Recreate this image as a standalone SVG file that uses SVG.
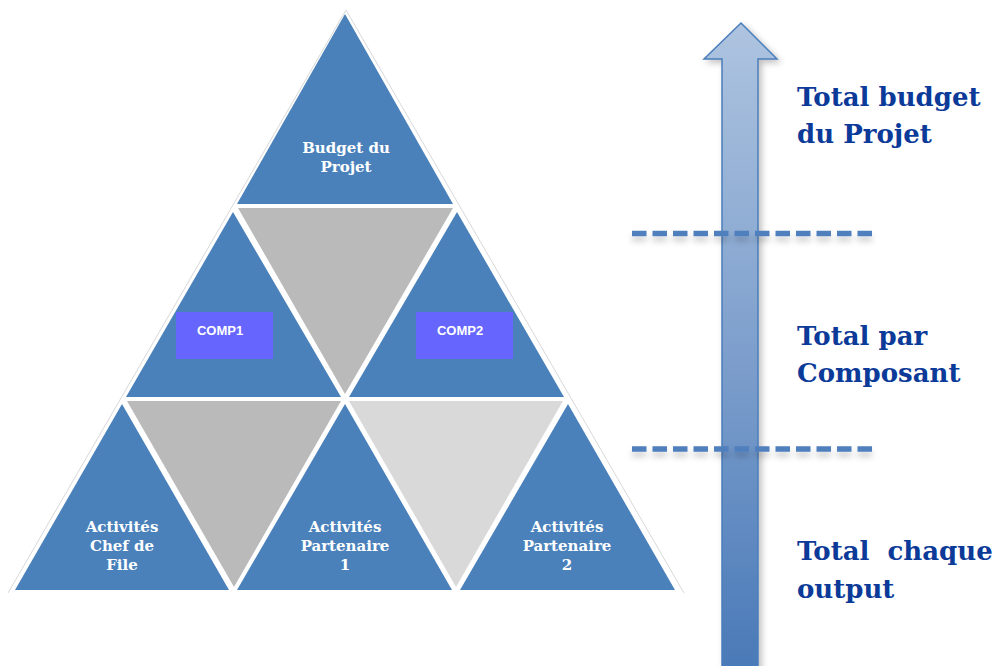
<svg xmlns="http://www.w3.org/2000/svg" width="995" height="666" viewBox="0 0 995 666">
<defs>
<linearGradient id="arrowGrad" x1="0" y1="22" x2="0" y2="666" gradientUnits="userSpaceOnUse">
<stop offset="0" stop-color="#AEC4E0"/>
<stop offset="0.5" stop-color="#7FA0CD"/>
<stop offset="1" stop-color="#4A7AB8"/>
</linearGradient>
<filter id="shadow" x="-30%" y="-10%" width="160%" height="130%">
<feDropShadow dx="3" dy="3" stdDeviation="3" flood-color="#000" flood-opacity="0.25"/>
</filter>
<filter id="lineShadow" filterUnits="userSpaceOnUse" x="600" y="200" width="300" height="280">
<feDropShadow dx="0" dy="5" stdDeviation="3" flood-color="#000" flood-opacity="0.2"/>
</filter>
</defs>
<style>
.blue{fill:#4A81BB}
.grey{fill:#BABABA}
.lgrey{fill:#D9D9D9}
.comp{fill:#6666FF}
.tlabel{font-family:"DejaVu Serif","Liberation Serif",serif;font-weight:bold;font-size:15px;fill:#FFFFFF;text-anchor:middle}
.clabel{font-family:"Liberation Sans",Arial,sans-serif;font-weight:bold;font-size:13px;fill:#FFFFFF;text-anchor:middle}
.rlabel{font-family:"DejaVu Serif","Liberation Serif",serif;font-weight:bold;font-size:26px;fill:#0B3A99;white-space:pre}
.dash{stroke:#4F7FBD;stroke-width:5.3;stroke-dasharray:14.5 6;fill:none}
</style>
<rect width="995" height="666" fill="#FFFFFF"/>
<polyline points="8,593 346,10 684,593" fill="none" stroke="#D8D8D8" stroke-width="1"/>
<g id="budget-projet">
<polygon class="blue" points="345,14 237,204 453,204"/>
<text class="tlabel" x="346" y="153">Budget du</text>
<text class="tlabel" x="346" y="172">Projet</text>
</g>
<g id="grey-top">
<polygon class="grey" points="238,208 453,208 345,394"/>
</g>
<g id="comp1">
<polygon class="blue" points="233,212 126,397 341,397"/>
<rect class="comp" x="176" y="312" width="97" height="47"/>
<text class="clabel" x="220" y="335">COMP1</text>
</g>
<g id="comp2">
<polygon class="blue" points="457,212 349,397 564,397"/>
<rect class="comp" x="416" y="312" width="97" height="47"/>
<text class="clabel" x="460" y="335">COMP2</text>
</g>
<g id="grey-left">
<polygon class="grey" points="127,401 341,401 234,587"/>
</g>
<g id="grey-right">
<polygon class="lgrey" points="349,401 563,401 456,587"/>
</g>
<g id="chef-de-file">
<polygon class="blue" points="122,404 15,590 229,590"/>
<text class="tlabel" x="122" y="532">Activités</text>
<text class="tlabel" x="122" y="551">Chef de</text>
<text class="tlabel" x="122" y="570">File</text>
</g>
<g id="partenaire1">
<polygon class="blue" points="345,404 237,590 452,590"/>
<text class="tlabel" x="345" y="532">Activités</text>
<text class="tlabel" x="345" y="551">Partenaire</text>
<text class="tlabel" x="345" y="570">1</text>
</g>
<g id="partenaire2">
<polygon class="blue" points="568,404 460,590 675,590"/>
<text class="tlabel" x="567" y="532">Activités</text>
<text class="tlabel" x="567" y="551">Partenaire</text>
<text class="tlabel" x="567" y="570">2</text>
</g>
<g id="arrow">
<polygon points="741,23 777,59 758,59 758,670 722,670 722,59 704,59" fill="url(#arrowGrad)" stroke="#4A7EBB" stroke-width="1.5" filter="url(#shadow)"/>
</g>
<g id="connectors" filter="url(#lineShadow)">
<line class="dash" x1="632" y1="233.5" x2="872.5" y2="233.5"/>
<line class="dash" x1="632" y1="449" x2="872.5" y2="449"/>
</g>
<g id="labels">
<text class="rlabel" x="797" y="106">Total budget</text>
<text class="rlabel" x="797" y="143">du Projet</text>
<text class="rlabel" x="797" y="345">Total par</text>
<text class="rlabel" x="797" y="382">Composant</text>
<text class="rlabel" x="797" y="560">Total  chaque</text>
<text class="rlabel" x="797" y="598">output</text>
</g>
</svg>
